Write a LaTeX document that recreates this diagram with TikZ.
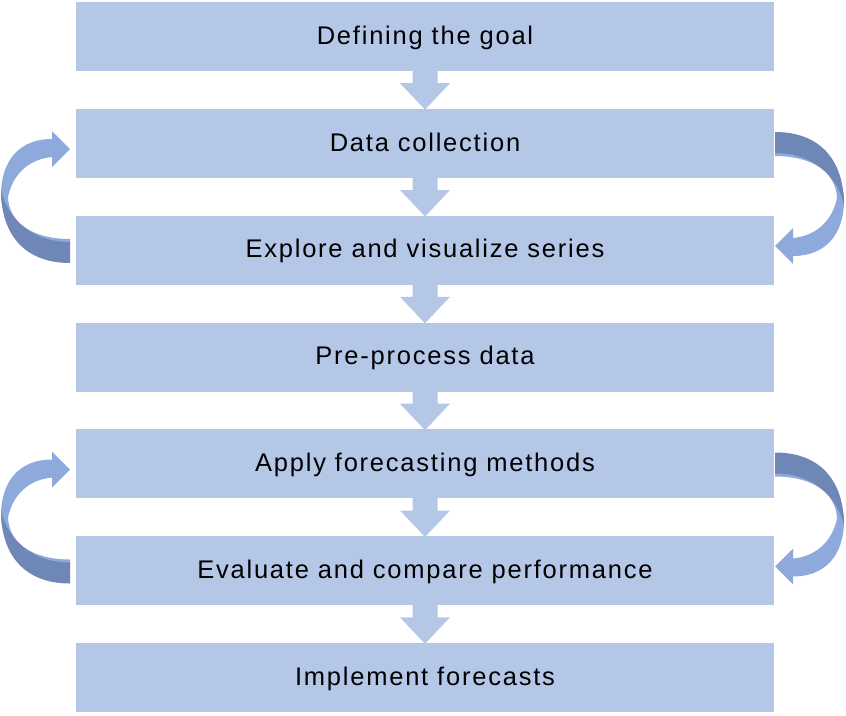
\documentclass[tikz,border=0pt]{standalone}
\usepackage{fontspec}
\setmainfont{Liberation Sans}[LetterSpace=7]
\usetikzlibrary{calc}
\definecolor{boxc}{RGB}{180,199,231}
\definecolor{arrdark}{RGB}{111,135,182}
\definecolor{arrlight}{RGB}{142,169,219}
\tikzset{
  stepbox/.style={fill=boxc, draw=none, minimum width=698pt, minimum height=69pt,
    inner sep=0pt, text height=18pt, text depth=2.6pt,
    font=\fontsize{25.5}{30}\selectfont, text=black},
}
\begin{document}
\begin{tikzpicture}[x=1pt,y=-1pt]
\useasboundingbox (0,0) rectangle (846,715);
% boxes
\node[stepbox] (b1) at (425,36.5) {Defining the goal};
\node[stepbox] (b2) at (425,143.33) {Data collection};
\node[stepbox] (b3) at (425,250.16) {Explore and visualize series};
\node[stepbox] (b4) at (425,357.0) {Pre-process data};
\node[stepbox] (b5) at (425,463.83) {Apply forecasting methods};
\node[stepbox] (b6) at (425,570.66) {Evaluate and compare performance};
\node[stepbox] (b7) at (425,677.5) {Implement forecasts};
% down arrows
\foreach \a/\b in {b1/b2,b2/b3,b3/b4,b4/b5,b5/b6,b6/b7}{
  \fill[boxc] ($(\a.south)+(-12.5,-1)$) -- ($(\a.south)+(-12.5,12)$) -- ($(\a.south)+(-25,12)$)
    -- ($(\b.north)+(0,1)$) -- ($(\a.south)+(25,12)$) -- ($(\a.south)+(12.5,12)$)
    -- ($(\a.south)+(12.5,-1)$) -- cycle;
}
% curved arrows
\foreach \dy in {0,320.5}{
  \begin{scope}[yshift=-\dy pt]
    % right arrow
    \fill[arrlight] (775,150) .. controls (815,150) and (844,170) .. (844,200)
      .. controls (844,235) and (825,256) .. (793,256) -- (793,264) -- (775,246)
      -- (793,228) -- (793,238) .. controls (815,236) and (832,222) .. (837,198)
      .. controls (836,172) and (812,156) .. (775,156) -- cycle;
    \fill[arrdark] (775,132) .. controls (820,132) and (844,160) .. (844,205)
      .. controls (838,178) and (815,153) .. (775,153) -- cycle;
    % left arrow (rotated copy)
    \begin{scope}[rotate around={180:(422.5,197.5)}]
      \fill[arrlight] (775,150) .. controls (815,150) and (844,170) .. (844,200)
        .. controls (844,235) and (825,256) .. (793,256) -- (793,264) -- (775,246)
        -- (793,228) -- (793,238) .. controls (815,236) and (832,222) .. (837,198)
        .. controls (836,172) and (812,156) .. (775,156) -- cycle;
      \fill[arrdark] (775,132) .. controls (820,132) and (844,160) .. (844,205)
        .. controls (838,178) and (815,153) .. (775,153) -- cycle;
    \end{scope}
  \end{scope}
}
\end{tikzpicture}
\end{document}
